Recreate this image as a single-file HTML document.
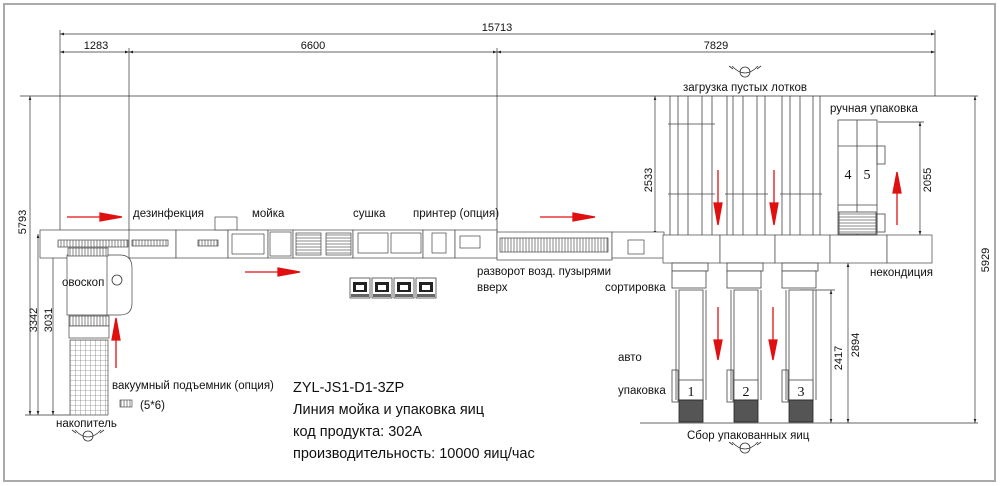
<!DOCTYPE html>
<html><head><meta charset="utf-8"><style>
body{margin:0;background:#fff}
svg{display:block}
text{font-family:"Liberation Sans",sans-serif;fill:#111}
</style></head><body>
<svg width="1000" height="486" viewBox="0 0 1000 486" xmlns="http://www.w3.org/2000/svg">
<defs>
<marker id="a" markerWidth="6" markerHeight="4" refX="6" refY="2" orient="auto"><path d="M0,0L6,2L0,4z" fill="#222"/></marker>
<marker id="b" markerWidth="6" markerHeight="4" refX="0" refY="2" orient="auto"><path d="M6,0L0,2L6,4z" fill="#222"/></marker>
<pattern id="hatch" width="3" height="6" patternUnits="userSpaceOnUse"><rect width="3" height="6" fill="#fff"/><line x1="1" y1="0" x2="1" y2="6" stroke="#555" stroke-width="0.7"/></pattern>
<pattern id="grid" width="5" height="5" patternUnits="userSpaceOnUse"><rect width="5" height="5" fill="#fff"/><path d="M0,0H5M0,0V5" stroke="#555" stroke-width="0.6"/></pattern>
<pattern id="hl" width="6" height="3" patternUnits="userSpaceOnUse"><rect width="6" height="3" fill="#fff"/><line x1="0" y1="1" x2="6" y2="1" stroke="#555" stroke-width="0.7"/></pattern>
<g id="eye" fill="none" stroke="#333" stroke-width="0.8"><ellipse cx="0" cy="0" rx="5" ry="5"/><path d="M-13,-6Q0,8 13,-6M-12,-3L-16,-6M12,-3L16,-6"/></g>
<g id="pr"><rect x="0" y="0" width="20" height="20" fill="#fff" stroke="#444" stroke-width="0.8"/><rect x="3" y="4" width="14" height="10" fill="#222"/><rect x="6" y="7" width="8" height="5" fill="#fff"/><rect x="1" y="16" width="18" height="3" fill="#666"/></g>
</defs>
<rect x="4" y="4" width="991" height="477" fill="none" stroke="#aaa" stroke-width="2"/>
<g stroke="#333" stroke-width="0.7" fill="none">
<line x1="60" y1="34" x2="935" y2="34" marker-start="url(#b)" marker-end="url(#a)"/>
<line x1="60" y1="52" x2="129" y2="52" marker-start="url(#b)" marker-end="url(#a)"/>
<line x1="129" y1="52" x2="497" y2="52" marker-start="url(#b)" marker-end="url(#a)"/>
<line x1="497" y1="52" x2="935" y2="52" marker-start="url(#b)" marker-end="url(#a)"/>
<line x1="60" y1="30" x2="60" y2="240"/><line x1="129" y1="48" x2="129" y2="232"/><line x1="497" y1="48" x2="497" y2="235"/><line x1="935" y1="30" x2="935" y2="96"/>
<line x1="20" y1="96" x2="978" y2="96"/>
<line x1="30" y1="96" x2="30" y2="415" marker-start="url(#b)" marker-end="url(#a)"/>
<line x1="975" y1="96" x2="975" y2="423" marker-start="url(#b)" marker-end="url(#a)"/>
<line x1="25" y1="415" x2="70" y2="415"/>
<line x1="38" y1="234" x2="38" y2="415" marker-start="url(#b)" marker-end="url(#a)"/>
<line x1="53" y1="248" x2="53" y2="415" marker-start="url(#b)" marker-end="url(#a)"/>
<line x1="640" y1="423" x2="978" y2="423"/>
<line x1="655" y1="96" x2="655" y2="235" marker-start="url(#b)" marker-end="url(#a)"/>
<line x1="920" y1="122" x2="920" y2="235" marker-start="url(#b)" marker-end="url(#a)"/>
<line x1="878" y1="122" x2="924" y2="122"/>
<line x1="831" y1="290" x2="831" y2="423" marker-start="url(#b)" marker-end="url(#a)"/>
<line x1="848" y1="263" x2="848" y2="423" marker-start="url(#b)" marker-end="url(#a)"/>
<line x1="800" y1="290" x2="835" y2="290"/>
</g>
<g font-size="11" text-anchor="middle">
<text x="497" y="31">15713</text><text x="96" y="49">1283</text><text x="313" y="49">6600</text><text x="716" y="49">7829</text>
<text transform="translate(26,222) rotate(-90)">5793</text>
<text transform="translate(989,260) rotate(-90)">5929</text>
<text transform="translate(37,320) rotate(-90)">3342</text>
<text transform="translate(52,320) rotate(-90)">3031</text>
<text transform="translate(652,180) rotate(-90)">2533</text>
<text transform="translate(931,180) rotate(-90)">2055</text>
<text transform="translate(842,358) rotate(-90)">2417</text>
<text transform="translate(859,345) rotate(-90)">2894</text>
</g>
<g stroke="#444" stroke-width="0.7" fill="#fff">
<rect x="40" y="230" width="90" height="28"/>
<rect x="58" y="240" width="70" height="7" fill="url(#hatch)"/>
<rect x="129" y="230" width="47" height="28"/><rect x="176" y="230" width="52" height="28"/>
<rect x="132" y="240" width="36" height="6" fill="url(#hatch)"/><rect x="198" y="240" width="20" height="6" fill="url(#hatch)"/>
<rect x="215" y="217" width="22" height="13"/>
<rect x="228" y="230" width="40" height="28"/><rect x="232" y="234" width="32" height="20"/>
<rect x="268" y="230" width="25" height="28"/><rect x="270" y="232" width="21" height="24"/>
<rect x="293" y="230" width="60" height="28"/><rect x="296" y="233" width="25" height="22" fill="url(#hl)"/><rect x="326" y="233" width="25" height="22" fill="url(#hl)"/>
<rect x="353" y="230" width="70" height="28"/><rect x="358" y="233" width="30" height="20"/><rect x="391" y="233" width="30" height="20"/>
<rect x="423" y="230" width="32" height="28"/><rect x="432" y="233" width="14" height="20"/>
<rect x="455" y="230" width="42" height="28"/><rect x="460" y="236" width="20" height="12"/>
<rect x="497" y="232" width="115" height="28"/><rect x="500" y="238" width="108" height="14" fill="url(#hatch)"/>
<rect x="612" y="232" width="52" height="26"/><rect x="628" y="240" width="16" height="14"/>
<rect x="663" y="235" width="57" height="28"/><rect x="720" y="235" width="55" height="28"/><rect x="775" y="235" width="55" height="28"/><rect x="830" y="235" width="57" height="28"/><rect x="887" y="235" width="45" height="28"/>
<path d="M67,255H120Q132,255 132,268V303Q132,315 120,315H67Z"/>
<line x1="107" y1="255" x2="107" y2="315"/>
<rect x="68" y="248" width="40" height="8" fill="url(#hatch)"/>
<rect x="69" y="316" width="40" height="10" fill="url(#hatch)"/>
<rect x="69" y="326" width="40" height="12"/>
<rect x="70" y="340" width="38" height="75" fill="url(#grid)"/>
</g>
<circle cx="117" cy="280" r="5" fill="none" stroke="#333" stroke-width="0.8"/>
<g fill="none" stroke="#444" stroke-width="0.8">
<path d="M670,96V235M678,96V235M702,96V235M712,96V235M688,96V235"/>
<path d="M727,96V235M733,96V235M757,96V235M765,96V235M743,96V235"/>
<path d="M782,96V235M790,96V235M813,96V235M820,96V235M800,96V235"/>
<path d="M668,124H715M668,194H715M725,194H768M780,194H822"/>
<rect x="838" y="120" width="39" height="115" fill="#fff"/>
<line x1="857" y1="120" x2="857" y2="235"/><line x1="838" y1="146" x2="877" y2="146"/><line x1="838" y1="205" x2="877" y2="205"/>
<rect x="839" y="212" width="37" height="22" fill="url(#hl)"/>
<rect x="877" y="146" width="8" height="18"/><rect x="877" y="214" width="8" height="18"/>
<g id="ln"><rect x="672" y="263" width="36" height="8" fill="#fff"/><rect x="672" y="271" width="34" height="17" fill="#fff"/>
<rect x="679" y="290" width="24" height="110" fill="#fff"/><path d="M676,290V400M706,290V400"/>
<rect x="679" y="380" width="24" height="20" fill="#fff"/><rect x="672" y="370" width="6" height="32"/></g>
<use href="#ln" x="55"/><use href="#ln" x="110"/>
</g>
<g fill="#555" stroke="#222" stroke-width="0.8"><rect x="679" y="400" width="24" height="22"/><rect x="734" y="400" width="24" height="22"/><rect x="789" y="400" width="24" height="22"/></g>
<g font-size="14" text-anchor="middle"><text x="691" y="396" style="font-family:'Liberation Serif',serif">1</text><text x="746" y="396" style="font-family:'Liberation Serif',serif">2</text><text x="801" y="396" style="font-family:'Liberation Serif',serif">3</text>
<text x="848" y="179" style="font-family:'Liberation Serif',serif">4</text><text x="867" y="179" style="font-family:'Liberation Serif',serif">5</text></g>
<use href="#pr" x="350" y="278"/><use href="#pr" x="372" y="278"/><use href="#pr" x="394" y="278"/><use href="#pr" x="416" y="278"/>
<use href="#eye" x="745" y="72"/><use href="#eye" x="745" y="448"/><use href="#eye" x="88" y="436"/>
<g stroke="#e01010" stroke-width="1.3" fill="#e01010">
<line x1="67" y1="217" x2="108" y2="217"/><path d="M100,213L122,217L100,221z"/>
<line x1="245" y1="272" x2="280" y2="272"/><path d="M278,268L300,272L278,276z"/>
<line x1="540" y1="217" x2="574" y2="217"/><path d="M573,213L595,217L573,221z"/>
<line x1="718" y1="170" x2="718" y2="205"/><path d="M714,203L718,225L722,203z"/>
<line x1="774" y1="170" x2="774" y2="205"/><path d="M770,203L774,225L778,203z"/>
<line x1="897" y1="225" x2="897" y2="192"/><path d="M893,193L897,172L901,193z"/>
<line x1="718" y1="307" x2="718" y2="340"/><path d="M714,340L718,360L722,340z"/>
<line x1="773" y1="307" x2="773" y2="340"/><path d="M769,340L773,360L777,340z"/>
<line x1="116" y1="368" x2="116" y2="338"/><path d="M112,340L116,318L120,340z"/>
</g>
<g font-size="11.5">
<text x="133" y="217">дезинфекция</text><text x="252" y="217">мойка</text><text x="353" y="217">сушка</text><text x="413" y="217">принтер (опция)</text>
<text x="683" y="91">загрузка пустых лотков</text><text x="830" y="112">ручная упаковка</text>
<text x="477" y="275">разворот возд. пузырями</text><text x="477" y="291">вверх</text>
<text x="605" y="291">сортировка</text><text x="870" y="276">некондиция</text>
<text x="62" y="286">овоскоп</text>
<text x="112" y="389">вакуумный подъемник (опция)</text><text x="140" y="409">(5*6)</text>
<text x="56" y="427">накопитель</text>
<text x="618" y="361">авто</text><text x="618" y="394">упаковка</text>
<text x="687" y="439">Сбор упакованных яиц</text>
</g>
<rect x="120" y="400" width="12" height="7" fill="url(#hatch)" stroke="#333" stroke-width="0.6"/>
<g font-size="14.5"><text x="293" y="392">ZYL-JS1-D1-3ZP</text><text x="293" y="414">Линия мойка и упаковка яиц</text><text x="293" y="436">код продукта: 302A</text><text x="293" y="458">производительность: 10000 яиц/час</text></g>
</svg>
</body></html>
